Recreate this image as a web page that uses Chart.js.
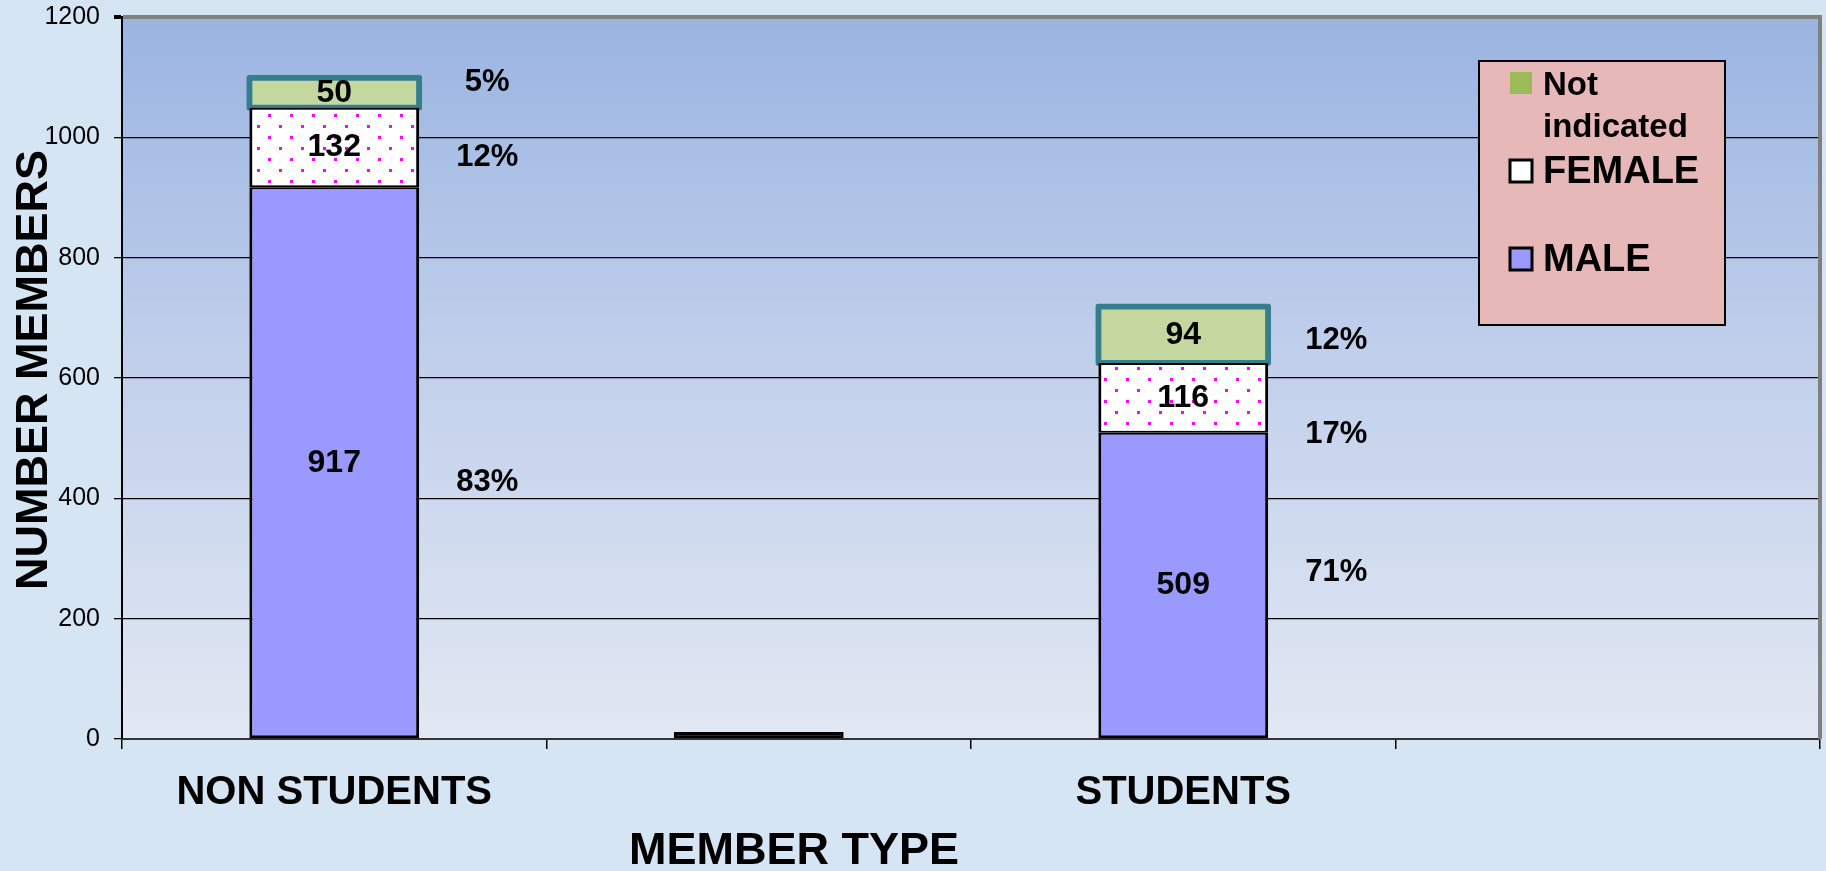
<!DOCTYPE html>
<html>
<head>
<meta charset="utf-8">
<script src="https://cdn.jsdelivr.net/npm/chart.js@4/dist/chart.umd.min.js"></script>
<style>
    html, body { margin: 0; padding: 0; background: #d5e5f3; }
    #wrap { width: 1826px; height: 871px; position: relative; }
</style>
</head>
<body>
<div id="wrap"><canvas id="memberChart" width="1826" height="871"></canvas></div>
<script>
// data
let categories = ['NON STUDENTS', '', 'STUDENTS', ''];
let maleValues = [917, 0, 509, null];
let femaleValues = [132, null, 116, null];
let notIndicatedValues = [50, null, 94, null];
let malePct = ['83%', '', '71%', ''];
let femalePct = ['12%', '', '17%', ''];
let notIndicatedPct = ['5%', '', '12%', ''];
let yTicks = [0, 200, 400, 600, 800, 1000, 1200];

const FONT = "'Liberation Sans', Arial, sans-serif";

let canvasMembers = document.getElementById('memberChart');
let ctxMembers = canvasMembers.getContext('2d');

function dotPattern() {
    let c = document.createElement('canvas');
    c.width = 22;
    c.height = 22;
    let g = c.getContext('2d');
    g.fillStyle = '#ffffff';
    g.fillRect(0, 0, 22, 22);
    g.fillStyle = '#ff00ff';
    g.fillRect(4, 4, 3, 3);
    g.fillRect(15, 15, 3, 3);
    return ctxMembers.createPattern(c, 'repeat');
}

// where the % texts sit (in axis units), as in the original
const pctAnchors = [
    [427, null, 277, null],
    [967, null, 507, null],
    [1091, null, 663, null]
];
const pctLabels = [malePct, femalePct, notIndicatedPct];

const plotBackground = {
    id: 'plotBackground',
    beforeDraw(chart) {
        const { ctx, chartArea: a } = chart;
        let grad = ctx.createLinearGradient(0, a.top, 0, a.bottom);
        grad.addColorStop(0, '#9ab4e1');
        grad.addColorStop(0.5, '#c3d1ec');
        grad.addColorStop(1, '#e2e8f3');
        ctx.save();
        ctx.fillStyle = grad;
        ctx.fillRect(a.left, a.top, a.right - a.left, a.bottom - a.top);
        ctx.restore();
    },
    afterDatasetsDraw(chart) {
        const { ctx, chartArea: a } = chart;
        ctx.save();
        ctx.strokeStyle = '#808080';
        ctx.lineWidth = 4;
        ctx.beginPath();
        ctx.moveTo(a.right, a.top - 2);
        ctx.lineTo(a.right, a.bottom);
        ctx.stroke();
        ctx.restore();
    }
};

const barLabels = {
    id: 'barLabels',
    afterDatasetsDraw(chart) {
        const ctx = chart.ctx;
        const yScale = chart.scales.y;
        ctx.save();
        ctx.fillStyle = '#000';
        ctx.textAlign = 'center';
        ctx.textBaseline = 'middle';
        chart.data.datasets.forEach((ds, di) => {
            const meta = chart.getDatasetMeta(di);
            meta.data.forEach((el, i) => {
                const v = ds.data[i];
                if (!v) return;
                ctx.font = 'bold 32px ' + FONT;
                ctx.fillText(String(v), el.x, (el.y + el.base) / 2);
                const p = pctLabels[di][i];
                if (p) {
                    ctx.font = 'bold 31px ' + FONT;
                    ctx.fillText(p, el.x + 153, yScale.getPixelForValue(pctAnchors[di][i]));
                }
            });
        });
        ctx.restore();
    }
};

const boxLegend = {
    id: 'boxLegend',
    afterDraw(chart) {
        const ctx = chart.ctx;
        const box = { x: 1479, y: 61, w: 246, h: 264 };
        const look = [
            { color: '#9bbb59', border: false, size: 33 },
            { color: '#ffffff', border: true, size: 38 },
            { color: '#9999ff', border: true, size: 38 }
        ];
        ctx.save();
        ctx.fillStyle = '#e6b8b7';
        ctx.fillRect(box.x, box.y, box.w, box.h);
        ctx.strokeStyle = '#000';
        ctx.lineWidth = 2;
        ctx.strokeRect(box.x, box.y, box.w, box.h);

        const items = chart.data.datasets.slice().reverse();
        items.forEach((ds, k) => {
            const st = look[k];
            const top = box.y + 11 + k * 88;
            const sx = box.x + 31;
            ctx.fillStyle = st.color;
            ctx.fillRect(sx, top, 22, 22);
            if (st.border) {
                ctx.strokeStyle = '#000';
                ctx.lineWidth = 3;
                ctx.strokeRect(sx, top, 22, 22);
            }
            ctx.fillStyle = '#000';
            ctx.font = 'bold ' + st.size + 'px ' + FONT;
            ctx.textAlign = 'left';
            ctx.textBaseline = 'alphabetic';
            const tx = box.x + 64;
            const maxW = box.x + box.w - 6 - tx;
            let lines = [];
            let line = '';
            ds.label.split(' ').forEach(w => {
                const test = line ? line + ' ' + w : w;
                if (line && ctx.measureText(test).width > maxW) {
                    lines.push(line);
                    line = w;
                } else {
                    line = test;
                }
            });
            lines.push(line);
            lines.forEach((ln, j) => {
                ctx.fillText(ln, tx, top + 23 + j * 42);
            });
        });
        ctx.restore();
    }
};

const axisTitles = {
    id: 'axisTitles',
    afterDraw(chart) {
        const ctx = chart.ctx;
        ctx.save();
        ctx.fillStyle = '#000';
        ctx.font = 'bold 45px ' + FONT;
        ctx.textAlign = 'center';
        ctx.textBaseline = 'middle';
        ctx.fillText('MEMBER TYPE', 794, 852);
        ctx.translate(35, 370);
        ctx.rotate(-Math.PI / 2);
        ctx.fillText('NUMBER MEMBERS', 0, 0);
        ctx.restore();
    }
};

let memberChart = new Chart(ctxMembers, {
    type: 'bar',
    data: {
        labels: categories,
        datasets: [{
            label: 'MALE',
            data: maleValues,
            backgroundColor: c => c.raw === 0 ? '#000' : '#9999ff',
            borderColor: '#000',
            borderWidth: { top: 2, bottom: 3, left: 3, right: 3 },
            borderSkipped: false,
            minBarLength: 7,
            barPercentage: 0.4,
            categoryPercentage: 1
        }, {
            label: 'FEMALE',
            data: femaleValues,
            backgroundColor: dotPattern(),
            borderColor: '#000',
            borderWidth: { top: 2, bottom: 2, left: 3, right: 3 },
            borderSkipped: false,
            barPercentage: 0.4,
            categoryPercentage: 1
        }, {
            label: 'Not indicated',
            data: notIndicatedValues,
            backgroundColor: '#c4d79f',
            borderColor: '#367e8d',
            borderWidth: 6,
            borderRadius: 3,
            borderSkipped: false,
            inflateAmount: 3,
            barPercentage: 0.4,
            categoryPercentage: 1
        }]
    },
    options: {
        responsive: false,
        devicePixelRatio: 1,
        animation: false,
        layout: {
            padding: { top: 17, right: 6, left: 0, bottom: 0 }
        },
        plugins: {
            legend: { display: false },
            tooltip: { enabled: false }
        },
        scales: {
            x: {
                stacked: true,
                offset: true,
                grid: {
                    offset: true,
                    drawOnChartArea: false,
                    drawTicks: true,
                    tickLength: 10,
                    color: '#000',
                    lineWidth: 1.5
                },
                border: { color: '#333', width: 2 },
                ticks: {
                    color: '#000',
                    font: { family: FONT, size: 40, weight: 'bold' },
                    padding: 20,
                    maxRotation: 0,
                    autoSkip: false
                },
                afterFit: s => { s.height = 132; }
            },
            y: {
                stacked: true,
                min: 0,
                max: 1200,
                afterBuildTicks: s => { s.ticks = yTicks.map(v => ({ value: v })); },
                ticks: {
                    color: '#000',
                    font: { family: FONT, size: 25 },
                    padding: 14,
                    callback: v => String(v)
                },
                grid: {
                    color: c => c.tick.value === 1200 ? '#808080' : '#000',
                    lineWidth: c => c.tick.value === 1200 ? 4 : 1.3,
                    tickLength: 8,
                    tickColor: '#000'
                },
                border: { color: '#000', width: 2 },
                afterFit: s => {
                    s.width = 122;
                    s.paddingTop = 0;
                    s.paddingBottom = 0;
                }
            }
        }
    },
    plugins: [plotBackground, barLabels, boxLegend, axisTitles]
});
</script>
</body>
</html>
